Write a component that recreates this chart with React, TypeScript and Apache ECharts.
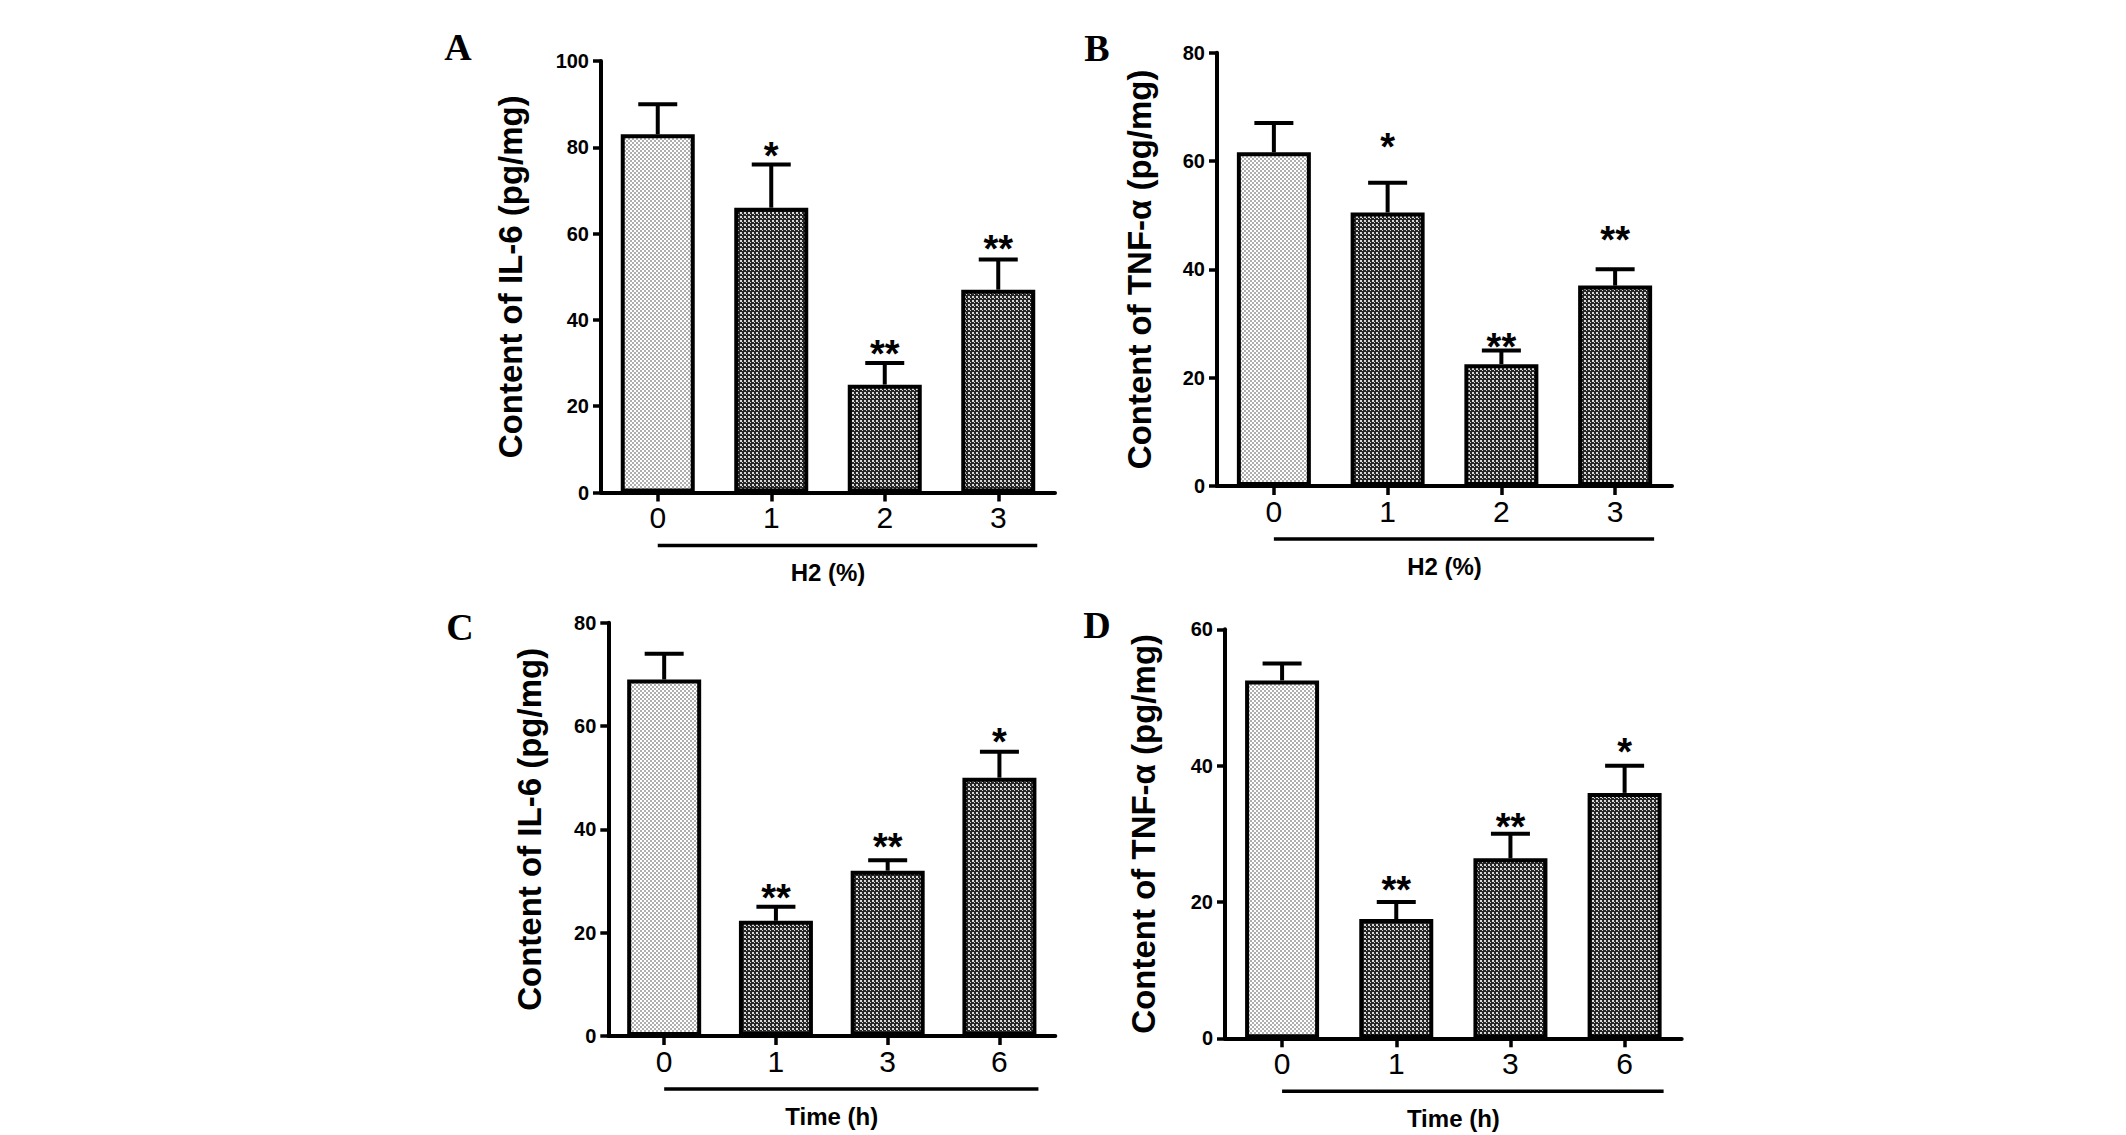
import React, { useEffect, useRef } from "react";
import * as echarts from "echarts";

// ---------- data ----------
const catsH2 = ["0", "1", "2", "3"];
const catsTime = ["0", "1", "3", "6"];

const il6H2Mean = [83, 66, 25, 47];
const il6H2Upper = [90, 76, 30, 54];
const il6H2Stars = ["", "*", "**", "**"];
const il6H2StarAt = [0, 80, 34.1, 58.4];

const tnfH2Mean = [61.6, 50.5, 22.5, 37];
const tnfH2Upper = [67, 56, 25, 40];
const tnfH2Stars = ["", "*", "**", "**"];
const tnfH2StarAt = [0, 64.2, 27.3, 46.9];

const il6TimeMean = [69, 22.3, 32, 50];
const il6TimeUpper = [74, 25, 34, 55];
const il6TimeStars = ["", "**", "**", "*"];
const il6TimeStarAt = [0, 28.4, 38.3, 58.6];

const tnfTimeMean = [52.5, 17.5, 26.4, 36];
const tnfTimeUpper = [55, 20, 30, 40];
const tnfTimeStars = ["", "**", "**", "*"];
const tnfTimeStarAt = [0, 23, 32.3, 43.3];

const yMaxes = [100, 80, 80, 60];
const yTitles = ["Content of IL-6 (pg/mg)", "Content of TNF-α (pg/mg)", "Content of IL-6 (pg/mg)", "Content of TNF-α (pg/mg)"];
const xTitles = ["H2 (%)", "H2 (%)", "Time (h)", "Time (h)"];
const panelLetters = ["A", "B", "C", "D"];

// ---------- layout (pixels) ----------
const grids = [
  { left: 601, top: 61, width: 454, height: 431.5 },
  { left: 1217, top: 52.7, width: 455, height: 433.3 },
  { left: 608.3, top: 622.7, width: 447, height: 413.3 },
  { left: 1225, top: 629.3, width: 456.7, height: 409 },
];
const yNameGaps = [74, 61, 62, 65];
const letterPos = [
  [458, 47],
  [1097, 48],
  [460, 627],
  [1097, 625],
];

const SANS = '"Liberation Sans", Arial, Helvetica, sans-serif';
const SERIF = '"Liberation Serif", "Times New Roman", serif';

function makeTile(base: string, dot: string, extra: boolean) {
  const c = document.createElement("canvas");
  c.width = 4;
  c.height = 4;
  const g = c.getContext("2d")!;
  g.fillStyle = base;
  g.fillRect(0, 0, 4, 4);
  g.fillStyle = dot;
  g.fillRect(0, 0, 2, 2);
  if (extra) g.fillRect(2, 2, 2, 2);
  else g.fillRect(2, 2, 1, 1);
  return c;
}

export default function App() {
  const ref = useRef<HTMLDivElement>(null);

  useEffect(() => {
    if (!ref.current) return;
    const chart = echarts.init(ref.current, null, { renderer: "svg" });

    const lightFill: any = { image: makeTile("#aeaeae", "#ffffff", true), repeat: "repeat", imageWidth: 4, imageHeight: 4 };
    const darkFill: any = { image: makeTile("#262626", "#d8d8d8", false), repeat: "repeat", imageWidth: 4, imageHeight: 4 };

    const panels = [
      { cats: catsH2, mean: il6H2Mean, upper: il6H2Upper, stars: il6H2Stars, starAt: il6H2StarAt },
      { cats: catsH2, mean: tnfH2Mean, upper: tnfH2Upper, stars: tnfH2Stars, starAt: tnfH2StarAt },
      { cats: catsTime, mean: il6TimeMean, upper: il6TimeUpper, stars: il6TimeStars, starAt: il6TimeStarAt },
      { cats: catsTime, mean: tnfTimeMean, upper: tnfTimeUpper, stars: tnfTimeStars, starAt: tnfTimeStarAt },
    ];

    const xAxes: any[] = [];
    const yAxes: any[] = [];
    const series: any[] = [];

    panels.forEach((p, k) => {
      xAxes.push({
        type: "category",
        gridIndex: k,
        data: p.cats,
        axisLine: { show: true, lineStyle: { color: "#000", width: 4 } },
        axisTick: { show: true, alignWithLabel: true, length: 9, lineStyle: { color: "#000", width: 3.5 } },
        axisLabel: { fontSize: 30, margin: 10, color: "#000", fontFamily: SANS },
        splitLine: { show: false },
        name: xTitles[k],
        nameLocation: "middle",
        nameGap: 68,
        nameTextStyle: { fontSize: 24, fontWeight: "bold", color: "#000", fontFamily: SANS },
      });
      yAxes.push({
        type: "value",
        gridIndex: k,
        min: 0,
        max: yMaxes[k],
        interval: 20,
        axisLine: { show: true, lineStyle: { color: "#000", width: 4 } },
        axisTick: { show: true, length: 8, lineStyle: { color: "#000", width: 3.5 } },
        axisLabel: { fontSize: 20, fontWeight: "bold", margin: 12, color: "#000", fontFamily: SANS },
        splitLine: { show: false },
        name: yTitles[k],
        nameLocation: "middle",
        nameRotate: 90,
        nameGap: yNameGaps[k],
        nameTextStyle: { fontSize: 33, fontWeight: "bold", color: "#000", fontFamily: SANS },
      });
      series.push({
        type: "bar",
        xAxisIndex: k,
        yAxisIndex: k,
        barWidth: 74,
        data: p.mean.map((v, i) => ({ value: v, itemStyle: { color: i === 0 ? lightFill : darkFill } })),
        itemStyle: { borderColor: "#000", borderWidth: 4 },
        emphasis: { disabled: true },
      });
      const stars = p.stars;
      const starAt = p.starAt;
      series.push({
        type: "custom",
        xAxisIndex: k,
        yAxisIndex: k,
        data: p.mean.map((v, i) => [i, v, p.upper[i]]),
        encode: { x: 0, y: [1, 2] },
        z: 5,
        renderItem: (params: any, api: any) => {
          const i = api.value(0);
          const base = api.coord([i, api.value(1)]);
          const top = api.coord([i, api.value(2)]);
          const children: any[] = [
            { type: "line", shape: { x1: base[0], y1: base[1], x2: top[0], y2: top[1] }, style: { stroke: "#000", lineWidth: 4 } },
            { type: "line", shape: { x1: top[0] - 19.5, y1: top[1], x2: top[0] + 19.5, y2: top[1] }, style: { stroke: "#000", lineWidth: 4 } },
          ];
          const s = stars[params.dataIndex];
          if (s) {
            const sp = api.coord([i, starAt[params.dataIndex]]);
            children.push({
              type: "text",
              x: sp[0],
              y: sp[1] + 8.5,
              style: { text: s, fontSize: 38, fontWeight: "bold", fontFamily: SANS, fill: "#000", align: "center", verticalAlign: "middle" },
            });
          }
          return { type: "group", children };
        },
      });
      const lastIdx = p.cats.length - 1;
      series.push({
        type: "custom",
        xAxisIndex: k,
        yAxisIndex: k,
        data: [[0, 0]],
        z: 5,
        renderItem: (_params: any, api: any) => {
          const a = api.coord([0, 0]);
          const b = api.coord([lastIdx, 0]);
          return {
            type: "line",
            shape: { x1: a[0], y1: a[1] + 53, x2: b[0] + 39, y2: a[1] + 53 },
            style: { stroke: "#000", lineWidth: 3.5 },
          };
        },
      });
    });

    const graphic = panelLetters.map((t, k) => ({
      type: "text",
      x: letterPos[k][0],
      y: letterPos[k][1],
      style: {
        text: t,
        fontSize: 38,
        fontWeight: "bold",
        fontFamily: SERIF,
        fill: "#000",
        align: "center",
        verticalAlign: "middle",
        textAlign: "center",
        textVerticalAlign: "middle",
      },
    }));

    chart.setOption({
      animation: false,
      backgroundColor: "#ffffff",
      grid: grids.map((g) => ({ ...g, containLabel: false })),
      xAxis: xAxes,
      yAxis: yAxes,
      series,
      graphic,
    });

    return () => chart.dispose();
  }, []);

  return <div ref={ref} style={{ position: "fixed", left: 0, top: 0, width: 2126, height: 1135, background: "#fff" }} />;
}
